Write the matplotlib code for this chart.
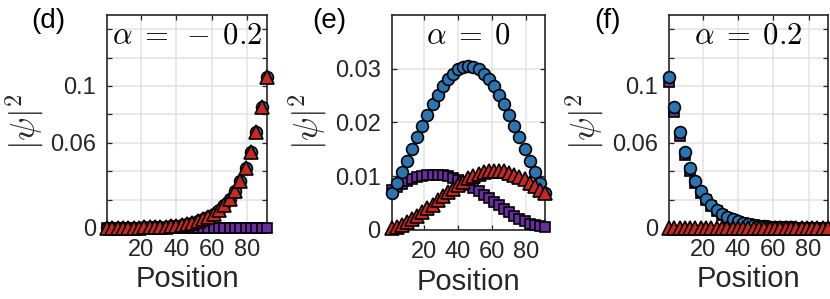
import numpy as np
import matplotlib
matplotlib.use("Agg")
import matplotlib.pyplot as plt

# site positions (every third site is marked)
position = np.arange(1, 92, 3)

# panel (d), alpha = -0.2 : states pile up on the right edge
d_blue = [0.0000, 0.0001, 0.0001, 0.0001, 0.0002, 0.0002, 0.0003, 0.0004,
          0.0005, 0.0006, 0.0008, 0.0010, 0.0013, 0.0017, 0.0022, 0.0029,
          0.0037, 0.0047, 0.0060, 0.0077, 0.0098, 0.0125, 0.0160, 0.0205,
          0.0260, 0.0330, 0.0420, 0.0537, 0.0678, 0.0854, 0.1065]
d_purple = [0.0] * 31
d_red = [0.0000, 0.0001, 0.0001, 0.0001, 0.0002, 0.0002, 0.0003, 0.0004,
         0.0005, 0.0006, 0.0008, 0.0010, 0.0013, 0.0017, 0.0022, 0.0029,
         0.0037, 0.0047, 0.0060, 0.0077, 0.0098, 0.0125, 0.0160, 0.0205,
         0.0260, 0.0330, 0.0420, 0.0537, 0.0678, 0.0854, 0.1065]

# panel (e), alpha = 0 : extended states
e_blue = [0.0068, 0.0087, 0.0108, 0.0129, 0.0151, 0.0173, 0.0194, 0.0214,
          0.0234, 0.0252, 0.0267, 0.0281, 0.0291, 0.0299, 0.0303, 0.0305,
          0.0303, 0.0299, 0.0291, 0.0281, 0.0267, 0.0252, 0.0234, 0.0214,
          0.0194, 0.0173, 0.0151, 0.0129, 0.0108, 0.0087, 0.0068]
e_purple = [0.0075, 0.0080, 0.0086, 0.0091, 0.0095, 0.0098, 0.0101, 0.0102,
            0.0103, 0.0103, 0.0102, 0.0100, 0.0097, 0.0093, 0.0089, 0.0084,
            0.0079, 0.0073, 0.0066, 0.0060, 0.0053, 0.0046, 0.0039, 0.0033,
            0.0026, 0.0021, 0.0016, 0.0012, 0.0009, 0.0007, 0.0006]
e_red = [0.0003, 0.0006, 0.0010, 0.0014, 0.0020, 0.0026, 0.0033, 0.0040,
         0.0047, 0.0055, 0.0063, 0.0070, 0.0077, 0.0084, 0.0090, 0.0096,
         0.0100, 0.0104, 0.0107, 0.0109, 0.0110, 0.0110, 0.0109, 0.0106,
         0.0103, 0.0099, 0.0094, 0.0088, 0.0082, 0.0075, 0.0068]

# panel (f), alpha = 0.2 : states pile up on the left edge
f_blue = [0.1065, 0.0854, 0.0678, 0.0537, 0.0420, 0.0330, 0.0260, 0.0205,
          0.0160, 0.0125, 0.0098, 0.0077, 0.0060, 0.0047, 0.0037, 0.0029,
          0.0022, 0.0017, 0.0013, 0.0010, 0.0008, 0.0006, 0.0005, 0.0004,
          0.0003, 0.0002, 0.0002, 0.0001, 0.0001, 0.0001, 0.0000]
f_purple = [0.1030, 0.0820, 0.0650, 0.0515, 0.0400, 0.0315, 0.0248, 0.0195,
            0.0152, 0.0119, 0.0093, 0.0073, 0.0057, 0.0045, 0.0035, 0.0027,
            0.0021, 0.0016, 0.0012, 0.0009, 0.0007, 0.0006, 0.0005, 0.0004,
            0.0003, 0.0002, 0.0002, 0.0001, 0.0001, 0.0001, 0.0000]
f_red = [0.0] * 31

panel_tags = ["(d)", "(e)", "(f)"]
alpha_titles = [r"$\alpha\;=\;-\;0.2$", r"$\alpha\;=\;0$", r"$\alpha\;=\;0.2$"]
x_ticks = [20, 40, 60, 80]

BLUE = "#2B75B2"
PURPLE = "#6B2D9E"
RED = "#C8281F"
DARK = "#262626"

plt.rcParams["font.family"] = ["Liberation Sans", "DejaVu Sans"]
plt.rcParams["mathtext.fontset"] = "cm"

fig = plt.figure(figsize=(8.3, 2.99), dpi=100)

boxes = [[0.1289, 0.2375, 0.1928, 0.7124],
         [0.4719, 0.2308, 0.1847, 0.7191],
         [0.8060, 0.2375, 0.1916, 0.7124]]
series = [(d_blue, d_purple, d_red), (e_blue, e_purple, e_red),
          (f_blue, f_purple, f_red)]
ylims = [0.15, 0.04, 0.15]
yticks = [np.arange(0, 0.141, 0.02), [0, 0.01, 0.02, 0.03], np.arange(0, 0.141, 0.02)]
ylabels = [["0", "", "", "0.06", "", "0.1", "", ""],
           ["0", "0.01", "0.02", "0.03"],
           ["0", "", "", "0.06", "", "0.1", "", ""]]
ylab_px = [25, 307.5, 585]
tag_x = [48, 329, 607]

for i in range(3):
    ax = fig.add_axes(boxes[i])
    blue, purple, red = series[i]
    ax.plot(position, purple, ls="none", marker="s", ms=7, mfc=PURPLE, mec="black",
            mew=1.2, clip_on=False, zorder=3)
    ax.plot(position, blue, ls="none", marker="o", ms=8.5, mfc=BLUE, mec="black",
            mew=1.2, clip_on=False, zorder=4)
    ax.plot(position, red, ls="none", marker="^", ms=9.5, mfc=RED, mec="black",
            mew=1.2, clip_on=False, zorder=5)

    ax.set_xlim(1, 91)
    ax.set_ylim(0, ylims[i])
    ax.set_xticks(x_ticks)
    ax.set_yticks(yticks[i])
    ax.set_yticklabels(ylabels[i])
    ax.grid(True, color="#e3e3e3", lw=1.1)
    ax.set_axisbelow(True)
    ax.tick_params(direction="in", length=3.5, width=0.9, colors=DARK,
                   labelsize=17, top=True, right=True, pad=8)
    for sp in ax.spines.values():
        sp.set_color(DARK)
        sp.set_linewidth(1.2)

    ax.set_xlabel("Position", fontsize=21, color=DARK)
    ax.xaxis.set_label_coords(0.5, -0.175)
    fig.text(ylab_px[i] / 830, 1 - 122 / 299, r"$|\psi|^2$", rotation=90,
             ha="center", va="center", fontsize=25, color=DARK)
    ax.text(0.5, 0.905, alpha_titles[i], transform=ax.transAxes, ha="center",
            va="center", fontsize=22, color="black")
    fig.text(tag_x[i] / 830, 1 - 21 / 299, panel_tags[i], ha="center", va="center",
             fontsize=20, color="black")

fig.savefig("out.png", dpi=100)
